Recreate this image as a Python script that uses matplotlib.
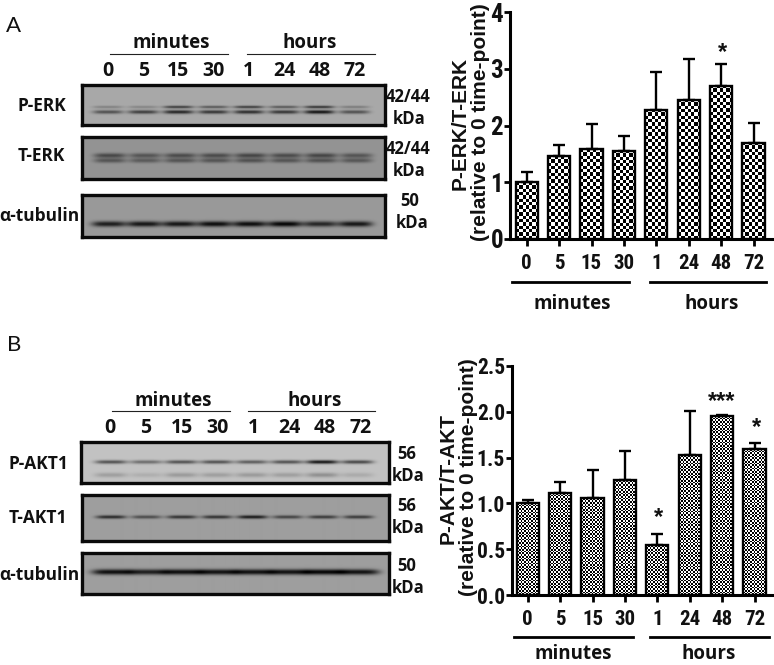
import numpy as np
import matplotlib
matplotlib.use("Agg")
import matplotlib.pyplot as plt

W, H = 774, 665
NARROW = 'Roboto Condensed'
CAL = 'Open Sans'
ARIAL = 'Liberation Sans'

# ---------- data ----------
time_labels = ['0', '5', '15', '30', '1', '24', '48', '72']
erk_mean = [1.00, 1.46, 1.58, 1.56, 2.28, 2.46, 2.70, 1.70]
erk_top = [1.19, 1.65, 2.03, 1.81, 2.94, 3.18, 3.09, 2.05]
akt_mean = [1.00, 1.11, 1.06, 1.26, 0.55, 1.53, 1.95, 1.59]
akt_top = [1.04, 1.23, 1.37, 1.57, 0.67, 2.01, 1.97, 1.66]
erk_ticks = [0, 1, 2, 3, 4]
akt_ticks = [0.0, 0.5, 1.0, 1.5, 2.0, 2.5]

# relative band strengths per lane
perk_up = [.22, .20, .60, .45, .60, .45, .65, .25]
perk_lo = [.50, .60, .75, .65, .70, .65, .85, .50]
terk_up = [.50, .42, .48, .48, .52, .48, .52, .42]
terk_lo = [.42, .38, .42, .42, .44, .42, .44, .40]
tub_a = [.80, .85, .85, .90, .90, .95, .75, .85]
pakt_up = [.55, .42, .55, .55, .50, .55, .85, .60]
pakt_lo = [.18, .10, .20, .18, .20, .18, .25, .12]
takt = [.70, .50, .65, .65, .80, .55, .60, .60]
tub_b = [.90, .80, .90, .88, .88, .88, .95, .88]


def px_axes(x0, y0, x1, y1, **kw):
    return fig.add_axes([x0 / W, 1 - y1 / H, (x1 - x0) / W, (y1 - y0) / H], **kw)


fig = plt.figure(figsize=(W / 100, H / 100), dpi=100, facecolor='white')
over = px_axes(0, 0, W, H, zorder=10)
over.set_xlim(0, W)
over.set_ylim(H, 0)
over.axis('off')
over.patch.set_alpha(0)


def txt(x, y, s, size=14, font=CAL, weight=700, **kw):
    over.text(x, y, s, fontsize=size, fontfamily=font, fontweight=weight,
              ha='center', va='center', color=kw.pop('color', '#111111'), **kw)


def blot(box, bg, lane0, step, rows, halfw):
    x0, y0, x1, y1 = box
    xs = np.arange(x0, x1) + .5
    ys = np.arange(y0, y1) + .5
    X, Y = np.meshgrid(xs, ys)
    img = np.full(X.shape, float(bg))
    for ypos, sig, strengths in rows:
        for i, s in enumerate(strengths):
            cx = lane0 + step * i
            img -= s * bg * np.exp(-np.abs((X - cx) / halfw) ** 4) * np.exp(-((Y - ypos) / sig) ** 2)
    ax = px_axes(x0, y0, x1, y1)
    ax.imshow(np.clip(img, 0, 1), cmap='gray', vmin=0, vmax=1, aspect='auto', interpolation='bilinear')
    ax.set_xticks([])
    ax.set_yticks([])
    for s in ax.spines.values():
        s.set_linewidth(2.4)
        s.set_color('#0a0a0a')


A0, AS = 108, 35.2
blot((82, 85, 385, 125), .66, A0, AS, [(107, 1.4, perk_up), (112, 1.9, perk_lo)], 15)
blot((82, 137, 385, 179), .58, A0 + 2, AS, [(155.5, 2.4, terk_up), (160.5, 2.4, terk_lo)], 16)
blot((82, 195, 385, 237), .60, A0 + 1, AS, [(224, 2.8, tub_a)], 17)
B0, BS = 111, 35.2
blot((81, 442, 389, 483), .76, B0, BS, [(462, 1.9, pakt_up), (475, 2.4, pakt_lo)], 16)
blot((82, 495, 389, 541), .62, B0, BS, [(517, 1.8, takt)], 15)
blot((82, 553, 389, 594), .62, B0 + 1, BS, [(572, 2.8, tub_b)], 20)

# western blot texts
for (cxm, cxh, ym, yline, ylab, lm, lh, lx0, step) in [
        (171, 310, 43, 54, 71, (110, 228), (247, 375), 108, 35.2),
        (173, 315, 401, 411, 428, (112, 230), (248, 375), 110, 35.8)]:
    txt(cxm, ym, 'minutes', 13.5)
    txt(cxh, ym, 'hours', 13.5)
    over.plot(lm, [yline, yline], color='#222222', lw=0.8)
    over.plot(lh, [yline, yline], color='#222222', lw=0.8)
    for i, t in enumerate(time_labels):
        txt(lx0 + step * i, ylab, t, 14)

for x, y, s, sz in [(42, 106, 'P-ERK', 12.5), (41, 156, 'T-ERK', 12.5), (39, 216, 'α-tubulin', 12.5),
                    (408, 97, '42/44', 12), (409, 119, 'kDa', 12), (408, 149, '42/44', 12),
                    (409, 171, 'kDa', 12), (410, 201, '50', 12), (412, 223, 'kDa', 12),
                    (38, 464, 'P-AKT1', 12.5), (38, 518, 'T-AKT1', 12.5), (39, 575, 'α-tubulin', 12.5),
                    (407, 454, '56', 12), (408, 476, 'kDa', 12), (407, 506, '56', 12),
                    (408, 528, 'kDa', 12), (407, 566, '50', 12), (408, 588, 'kDa', 12)]:
    txt(x, y, s, sz)
txt(14, 26, 'A', 16, 'Lato', weight=400)
txt(14, 345, 'B', 16, 'Lato', weight=400)


def bars(box, c0, step, means, tops, ticks, fmt, cell, ylim, xsize, ysize):
    x0, y0, x1, y1 = box
    ax = px_axes(x0, y0, x1, y1)
    ax.patch.set_alpha(0)
    xpos = np.arange(len(means))
    width = 0.68
    ax.bar(xpos, means, width, color='white', edgecolor='none', zorder=1)
    pxh = (y1 - y0) / ylim
    for x, m in zip(xpos, means):
        nx = int(round(width * step / cell))
        ny = max(1, int(round(m * pxh / cell)))
        pat = (np.add.outer(np.arange(ny), np.arange(nx)) % 2).astype(float)
        ax.imshow(pat, cmap='gray', vmin=0, vmax=1, aspect='auto', interpolation='nearest',
                  extent=(x - width / 2, x + width / 2, 0, m), zorder=2)
    ax.set_xlim((x0 - c0) / step, (x1 - c0) / step)
    ax.set_ylim(0, ylim)
    ax.bar(xpos, means, width, fill=False, edgecolor='black', linewidth=1.7, zorder=3)
    ax.errorbar(xpos, means, yerr=[np.zeros(len(means)), np.array(tops) - np.array(means)],
                fmt='none', ecolor='black', elinewidth=1.7, capsize=4.2, capthick=1.7, zorder=2.5)
    for s in ('top', 'right'):
        ax.spines[s].set_visible(False)
    ax.spines['left'].set_linewidth(2.2)
    ax.spines['bottom'].set_linewidth(2.2)
    ax.spines['left'].set_zorder(5)
    ax.spines['bottom'].set_zorder(5)
    ax.set_xticks(xpos, time_labels)
    ax.set_yticks(ticks, [fmt.format(t) for t in ticks])
    ax.tick_params(axis='x', length=5, width=2, pad=6, labelsize=xsize)
    ax.tick_params(axis='y', length=4, width=2, pad=1, labelsize=ysize)
    for lab in ax.get_xticklabels() + ax.get_yticklabels():
        lab.set_fontfamily(NARROW)
        lab.set_fontweight(700)
        lab.set_color('#111111')
    return ax


bars((510, 12.3, 772, 239), 526.7, 32.4, erk_mean, erk_top, erk_ticks, '{:d}', 3.3, 4, 15, 18)
bars((512, 366, 772, 595), 527.7, 32.4, akt_mean, akt_top, akt_ticks, '{:.1f}', 1.7, 2.5, 15, 15.5)

# chart labels
txt(460, 123, 'P-ERK/T-ERK', 15, ARIAL, rotation=90)
txt(480, 122, '(relative to 0 time-point)', 15, ARIAL, rotation=90)
txt(448, 479, 'P-AKT/T-AKT', 15, ARIAL, rotation=90)
txt(468, 477, '(relative to 0 time-point)', 15, ARIAL, rotation=90)

for xa, xb, ya in [((512, 629), (650, 766), 282), ((514, 633), (650, 769), 637)]:
    over.plot(xa, [ya, ya], color='black', lw=2)
    over.plot(xb, [ya, ya], color='black', lw=2)
txt(572, 304, 'minutes', 13.5)
txt(712, 304, 'hours', 13.5)
txt(573, 654, 'minutes', 13.5)
txt(709, 654, 'hours', 13.5)

for x, y, s in [(722, 53, '*'), (658, 518, '*'), (722, 402, '***'), (756, 428, '*')]:
    txt(x, y, s, 17, ARIAL)

fig.savefig('out.png', dpi=100)
